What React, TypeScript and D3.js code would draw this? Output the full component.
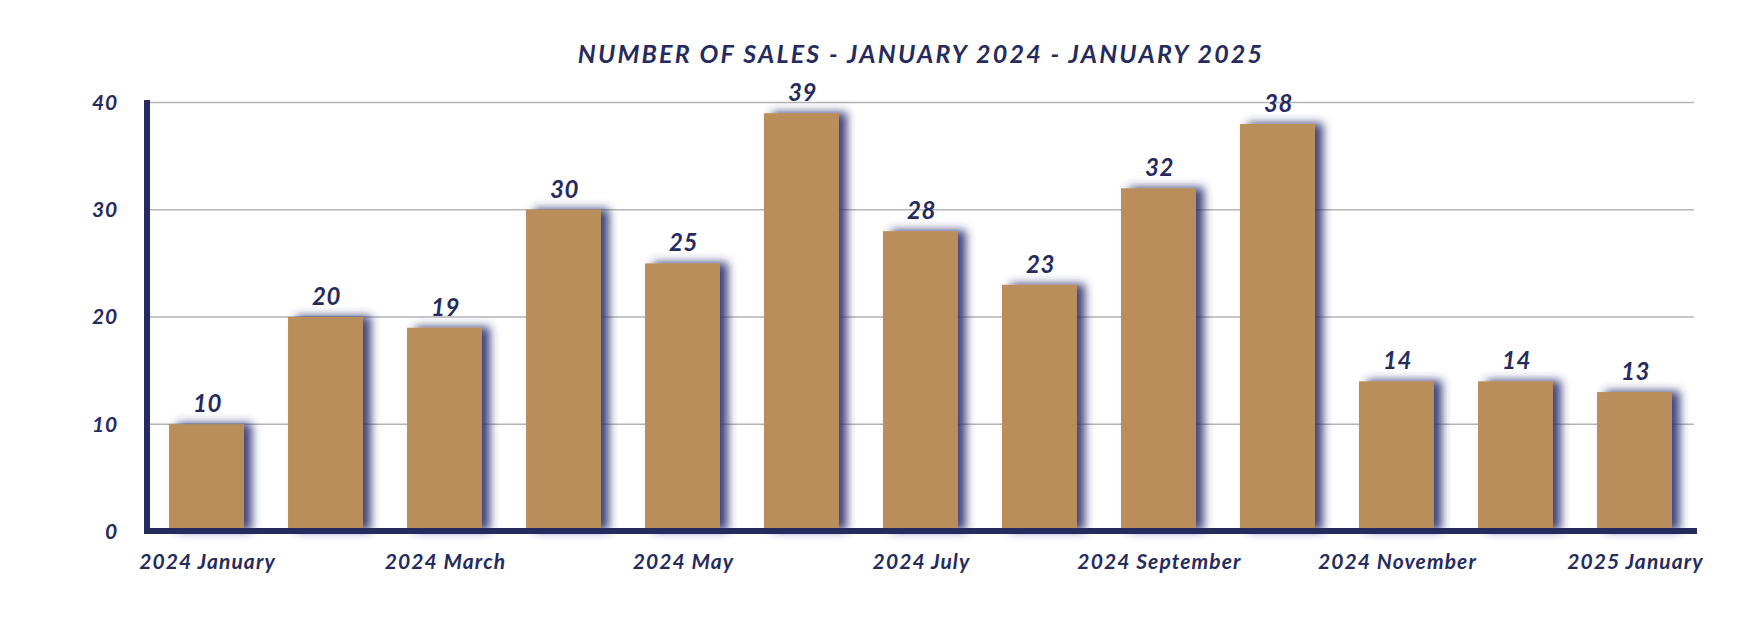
import React from "react";
import * as d3 from "d3";

const categories = [
  "2024 January", "2024 February", "2024 March", "2024 April", "2024 May", "2024 June",
  "2024 July", "2024 August", "2024 September", "2024 October", "2024 November",
  "2024 December", "2025 January",
];
const sales = [10, 20, 19, 30, 25, 39, 28, 23, 32, 38, 14, 14, 13];
const shownLabels = [
  "2024 January", "2024 March", "2024 May", "2024 July", "2024 September",
  "2024 November", "2025 January",
];
const yTicks = [0, 10, 20, 30, 40];
const title = "NUMBER OF SALES - JANUARY 2024 - JANUARY 2025";

const W = 1764;
const H = 628;
const NAVY = "#262b5e";
const BAR = "#ba8e5a";
const FONT = "Lato, 'Open Sans', sans-serif";

export default function App() {
  const x = d3
    .scaleBand<string>()
    .domain(categories)
    .range([150, 1691])
    .paddingInner(0.37)
    .paddingOuter(0.16);
  const y = d3.scaleLinear().domain([0, 40]).range([531.5, 102.5]);
  const bw = x.bandwidth();

  return (
    <svg
      width={W}
      height={H}
      style={{ position: "absolute", left: 0, top: 0, background: "#fff" }}
    >
      <defs>
        <filter id="shadow" x="-40%" y="-20%" width="180%" height="140%">
          <feGaussianBlur in="SourceAlpha" stdDeviation="5" />
          <feOffset dx="8" dy="-1" result="ob" />
          <feFlood floodColor="#2a2f6e" floodOpacity="0.9" />
          <feComposite in2="ob" operator="in" />
          <feMerge>
            <feMergeNode />
            <feMergeNode in="SourceGraphic" />
          </feMerge>
        </filter>
      </defs>

      <text
        x={921}
        y={63}
        textAnchor="middle"
        fontFamily={FONT}
        fontStyle="italic"
        fontWeight={700}
        fontSize={25}
        letterSpacing={2.2}
        fill={NAVY}
      >
        {title}
      </text>

      {yTicks.map((t) => (
        <g key={t}>
          {t > 0 && (
            <line x1={150} x2={1694} y1={y(t)} y2={y(t)} stroke="#b5b5b5" strokeWidth={1.6} />
          )}
          <text
            x={118}
            y={y(t) + 2}
            textAnchor="end"
            dominantBaseline="middle"
            fontFamily={FONT}
            fontStyle="italic"
            fontWeight={700}
            fontSize={21}
            letterSpacing={0.8}
            fill={NAVY}
          >
            {t}
          </text>
        </g>
      ))}

      {categories.map((c, i) => (
        <rect
          key={c}
          x={x(c)}
          y={y(sales[i])}
          width={bw}
          height={y(0) - y(sales[i])}
          fill={BAR}
          filter="url(#shadow)"
        />
      ))}

      {categories.map((c, i) => (
        <text
          key={c}
          x={(x(c) as number) + bw / 2 + 1}
          y={y(sales[i]) - 12}
          textAnchor="middle"
          fontFamily={FONT}
          fontStyle="italic"
          fontWeight={700}
          fontSize={24}
          letterSpacing={0.5}
          fill={NAVY}
        >
          {sales[i]}
        </text>
      ))}

      <line x1={147} x2={147} y1={100} y2={534} stroke={NAVY} strokeWidth={6} />
      <line x1={144} x2={1697} y1={531} y2={531} stroke={NAVY} strokeWidth={6} />

      {shownLabels.map((c) => (
        <text
          key={c}
          x={(x(c) as number) + bw / 2 + 1}
          y={569}
          textAnchor="middle"
          fontFamily={FONT}
          fontStyle="italic"
          fontWeight={700}
          fontSize={21}
          letterSpacing={1.1}
          fill={NAVY}
        >
          {c}
        </text>
      ))}
    </svg>
  );
}
